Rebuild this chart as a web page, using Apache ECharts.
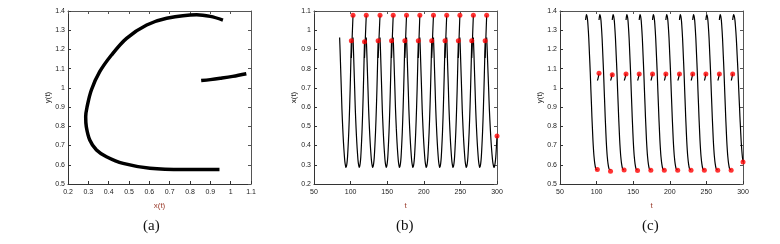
<!DOCTYPE html>
<html><head><meta charset="utf-8">
<script src="https://cdn.jsdelivr.net/npm/echarts@6/dist/echarts.min.js"></script>
<style>html,body{margin:0;padding:0;background:#fff}#c{width:780px;height:244px}</style>
</head><body><div id="c"></div>
<script>
// One period of the orbit: long arc (time offset, x, y)
const arcS = [0, 0.6, 1.15, 2.4, 3.2, 4.3, 5.3, 6.3, 7.2, 8.1, 8.6, 9.2, 10, 10.8, 11.5, 12.5, 13.7, 14.9, 16];
const arcX = [0.962, 0.90, 0.833, 0.685, 0.587, 0.488, 0.414, 0.356, 0.315, 0.294, 0.287, 0.290, 0.307, 0.340, 0.389, 0.471, 0.603, 0.768, 0.945];
const arcY = [1.353, 1.372, 1.381, 1.362, 1.327, 1.258, 1.171, 1.084, 0.989, 0.902, 0.850, 0.798, 0.729, 0.677, 0.642, 0.607, 0.582, 0.575, 0.575];
// short segment between the two impulses (fraction of its duration, x, y)
const shortS = [0, 0.22, 0.43, 0.7, 1];
const shortX = [0.855, 0.90, 0.949, 1.01, 1.077];
const shortY = [1.038, 1.043, 1.050, 1.060, 1.074];
// impulse times
const tLow = [101.0, 119.0, 137.6, 155.9, 174.1, 192.5, 210.8, 229.0, 247.2, 265.5, 283.8];
const tHigh = [103.3, 121.4, 140.2, 158.2, 176.4, 194.6, 213.2, 231.3, 249.3, 267.7, 285.9];
const tStart = 85, tEnd = 300;
const endS = 12.25, endX = 0.45, endY = 0.615;
// red dot values
const bLowVals = [0.945, 0.94, 0.945, 0.945, 0.945, 0.945, 0.945, 0.945, 0.945, 0.945, 0.945];
const bHighVals = [1.078, 1.078, 1.078, 1.078, 1.078, 1.078, 1.078, 1.078, 1.078, 1.078, 1.078];
const cLowVals = [0.576, 0.566, 0.573, 0.570, 0.572, 0.572, 0.572, 0.572, 0.572, 0.572, 0.572];
const cMidVals = [1.076, 1.069, 1.072, 1.072, 1.072, 1.072, 1.072, 1.072, 1.072, 1.072, 1.072];
const captions = ['(a)', '(b)', '(c)'];

const grids = [
  {left: 68, top: 11, width: 183, height: 173},
  {left: 314, top: 11, width: 183, height: 173},
  {left: 560, top: 11, width: 183, height: 173}
];
const lab = {fontSize: 7, color: '#222', fontFamily: 'Liberation Sans, Arial, sans-serif'};
const nameStyle = {fontSize: 8, color: '#222', fontFamily: 'Liberation Sans, Arial, sans-serif'};
const nameStyleX = {fontSize: 8, color: '#9a3a2a', fontFamily: 'Liberation Sans, Arial, sans-serif'};
const lineC = '#333';
function xAx(g, min, max, iv, name) {
  return [{
    gridIndex: g, type: 'value', min: min, max: max, interval: iv, position: 'bottom',
    name: name, nameLocation: 'middle', nameGap: 18, nameTextStyle: nameStyleX,
    axisLine: {lineStyle: {color: lineC, width: 1}}, axisTick: {inside: true, length: 3, lineStyle: {color: lineC}},
    axisLabel: Object.assign({margin: 5}, lab), splitLine: {show: false}
  }, {
    gridIndex: g, type: 'value', min: min, max: max, interval: iv, position: 'top',
    axisLine: {lineStyle: {color: '#555', width: 1}}, axisTick: {inside: true, length: 3, lineStyle: {color: '#555'}},
    axisLabel: {show: false}, splitLine: {show: false}
  }];
}
function yAx(g, min, max, iv, name) {
  return [{
    gridIndex: g, type: 'value', min: min, max: max, interval: iv, position: 'left',
    name: name, nameLocation: 'middle', nameGap: 15, nameTextStyle: nameStyle,
    axisLine: {show: true, lineStyle: {color: lineC, width: 1}}, axisTick: {show: true, inside: true, length: 3, lineStyle: {color: lineC}},
    axisLabel: Object.assign({margin: 3}, lab), splitLine: {show: false}
  }, {
    gridIndex: g, type: 'value', min: min, max: max, interval: iv, position: 'right',
    axisLine: {show: true, lineStyle: {color: '#555', width: 1}}, axisTick: {show: true, inside: true, length: 3, lineStyle: {color: '#555'}},
    axisLabel: {show: false}, splitLine: {show: false}
  }];
}
const xAxis = [].concat(xAx(0, 0.2, 1.1, 0.1, 'x(t)'), xAx(1, 50, 300, 50, 't'), xAx(2, 50, 300, 50, 't'));
const yAxis = [].concat(yAx(0, 0.5, 1.4, 0.1, 'y(t)'), yAx(1, 0.2, 1.1, 0.1, 'x(t)'), yAx(2, 0.5, 1.4, 0.1, 'y(t)'));

const series = [];
function line(xi, yi, data, w) {
  series.push({type: 'line', xAxisIndex: xi, yAxisIndex: yi, data: data, showSymbol: false, symbol: 'none',
    smooth: 0.35, lineStyle: {color: '#000', width: w}, silent: true, animation: false});
}
// panel (a)
line(0, 0, arcX.map((x, i) => [x, arcY[i]]), 3.5);
line(0, 0, shortX.map((x, i) => [x, shortY[i]]), 3.5);
// time series arcs
const arcs = [[tStart, tLow[0]]];
for (let k = 0; k < tHigh.length - 1; k++) arcs.push([tHigh[k], tLow[k + 1]]);
arcs.forEach(([t0, t1]) => {
  line(2, 2, arcS.map((s, i) => [t0 + s / 16 * (t1 - t0), arcX[i]]), 1.2);
  line(4, 4, arcS.map((s, i) => [t0 + s / 16 * (t1 - t0), arcY[i]]), 1.2);
});
// final partial arc
{
  const t0 = tHigh[tHigh.length - 1];
  const bx = [], cy = [];
  arcS.forEach((s, i) => { if (s < endS) { const t = t0 + s / endS * (tEnd - t0); bx.push([t, arcX[i]]); cy.push([t, arcY[i]]); } });
  bx.push([tEnd, endX]); cy.push([tEnd, endY]);
  line(2, 2, bx, 1.2); line(4, 4, cy, 1.2);
}
// short segments
tLow.forEach((t0, k) => {
  const t1 = tHigh[k];
  line(2, 2, shortS.map((f, i) => [t0 + f * (t1 - t0), shortX[i]]), 1.2);
  line(4, 4, shortS.map((f, i) => [t0 + f * (t1 - t0), shortY[i]]), 1.2);
});
// red dots
function dots(xi, yi, data) {
  series.push({type: 'scatter', xAxisIndex: xi, yAxisIndex: yi, data: data, symbolSize: 5, clip: false,
    itemStyle: {color: '#ff0000'}, silent: true, animation: false, z: 5});
}
dots(2, 2, tLow.map((t, i) => [t, bLowVals[i]]).concat(tHigh.map((t, i) => [t, bHighVals[i]]), [[tEnd, endX]]));
dots(4, 4, tLow.map((t, i) => [t, cLowVals[i]]).concat(tHigh.map((t, i) => [t, cMidVals[i]]), [[tEnd, endY]]));

const capX = [152, 405, 651];
const graphic = captions.map((c, i) => ({type: 'text', left: capX[i] - 9, top: 219,
  style: {text: c, font: '15px "Liberation Serif", "DejaVu Serif", serif', fill: '#111'}}));

const chart = echarts.init(document.getElementById('c'), null, {renderer: 'canvas'});
chart.setOption({animation: false, grid: grids, xAxis: xAxis, yAxis: yAxis, series: series, graphic: graphic});
</script></body></html>
